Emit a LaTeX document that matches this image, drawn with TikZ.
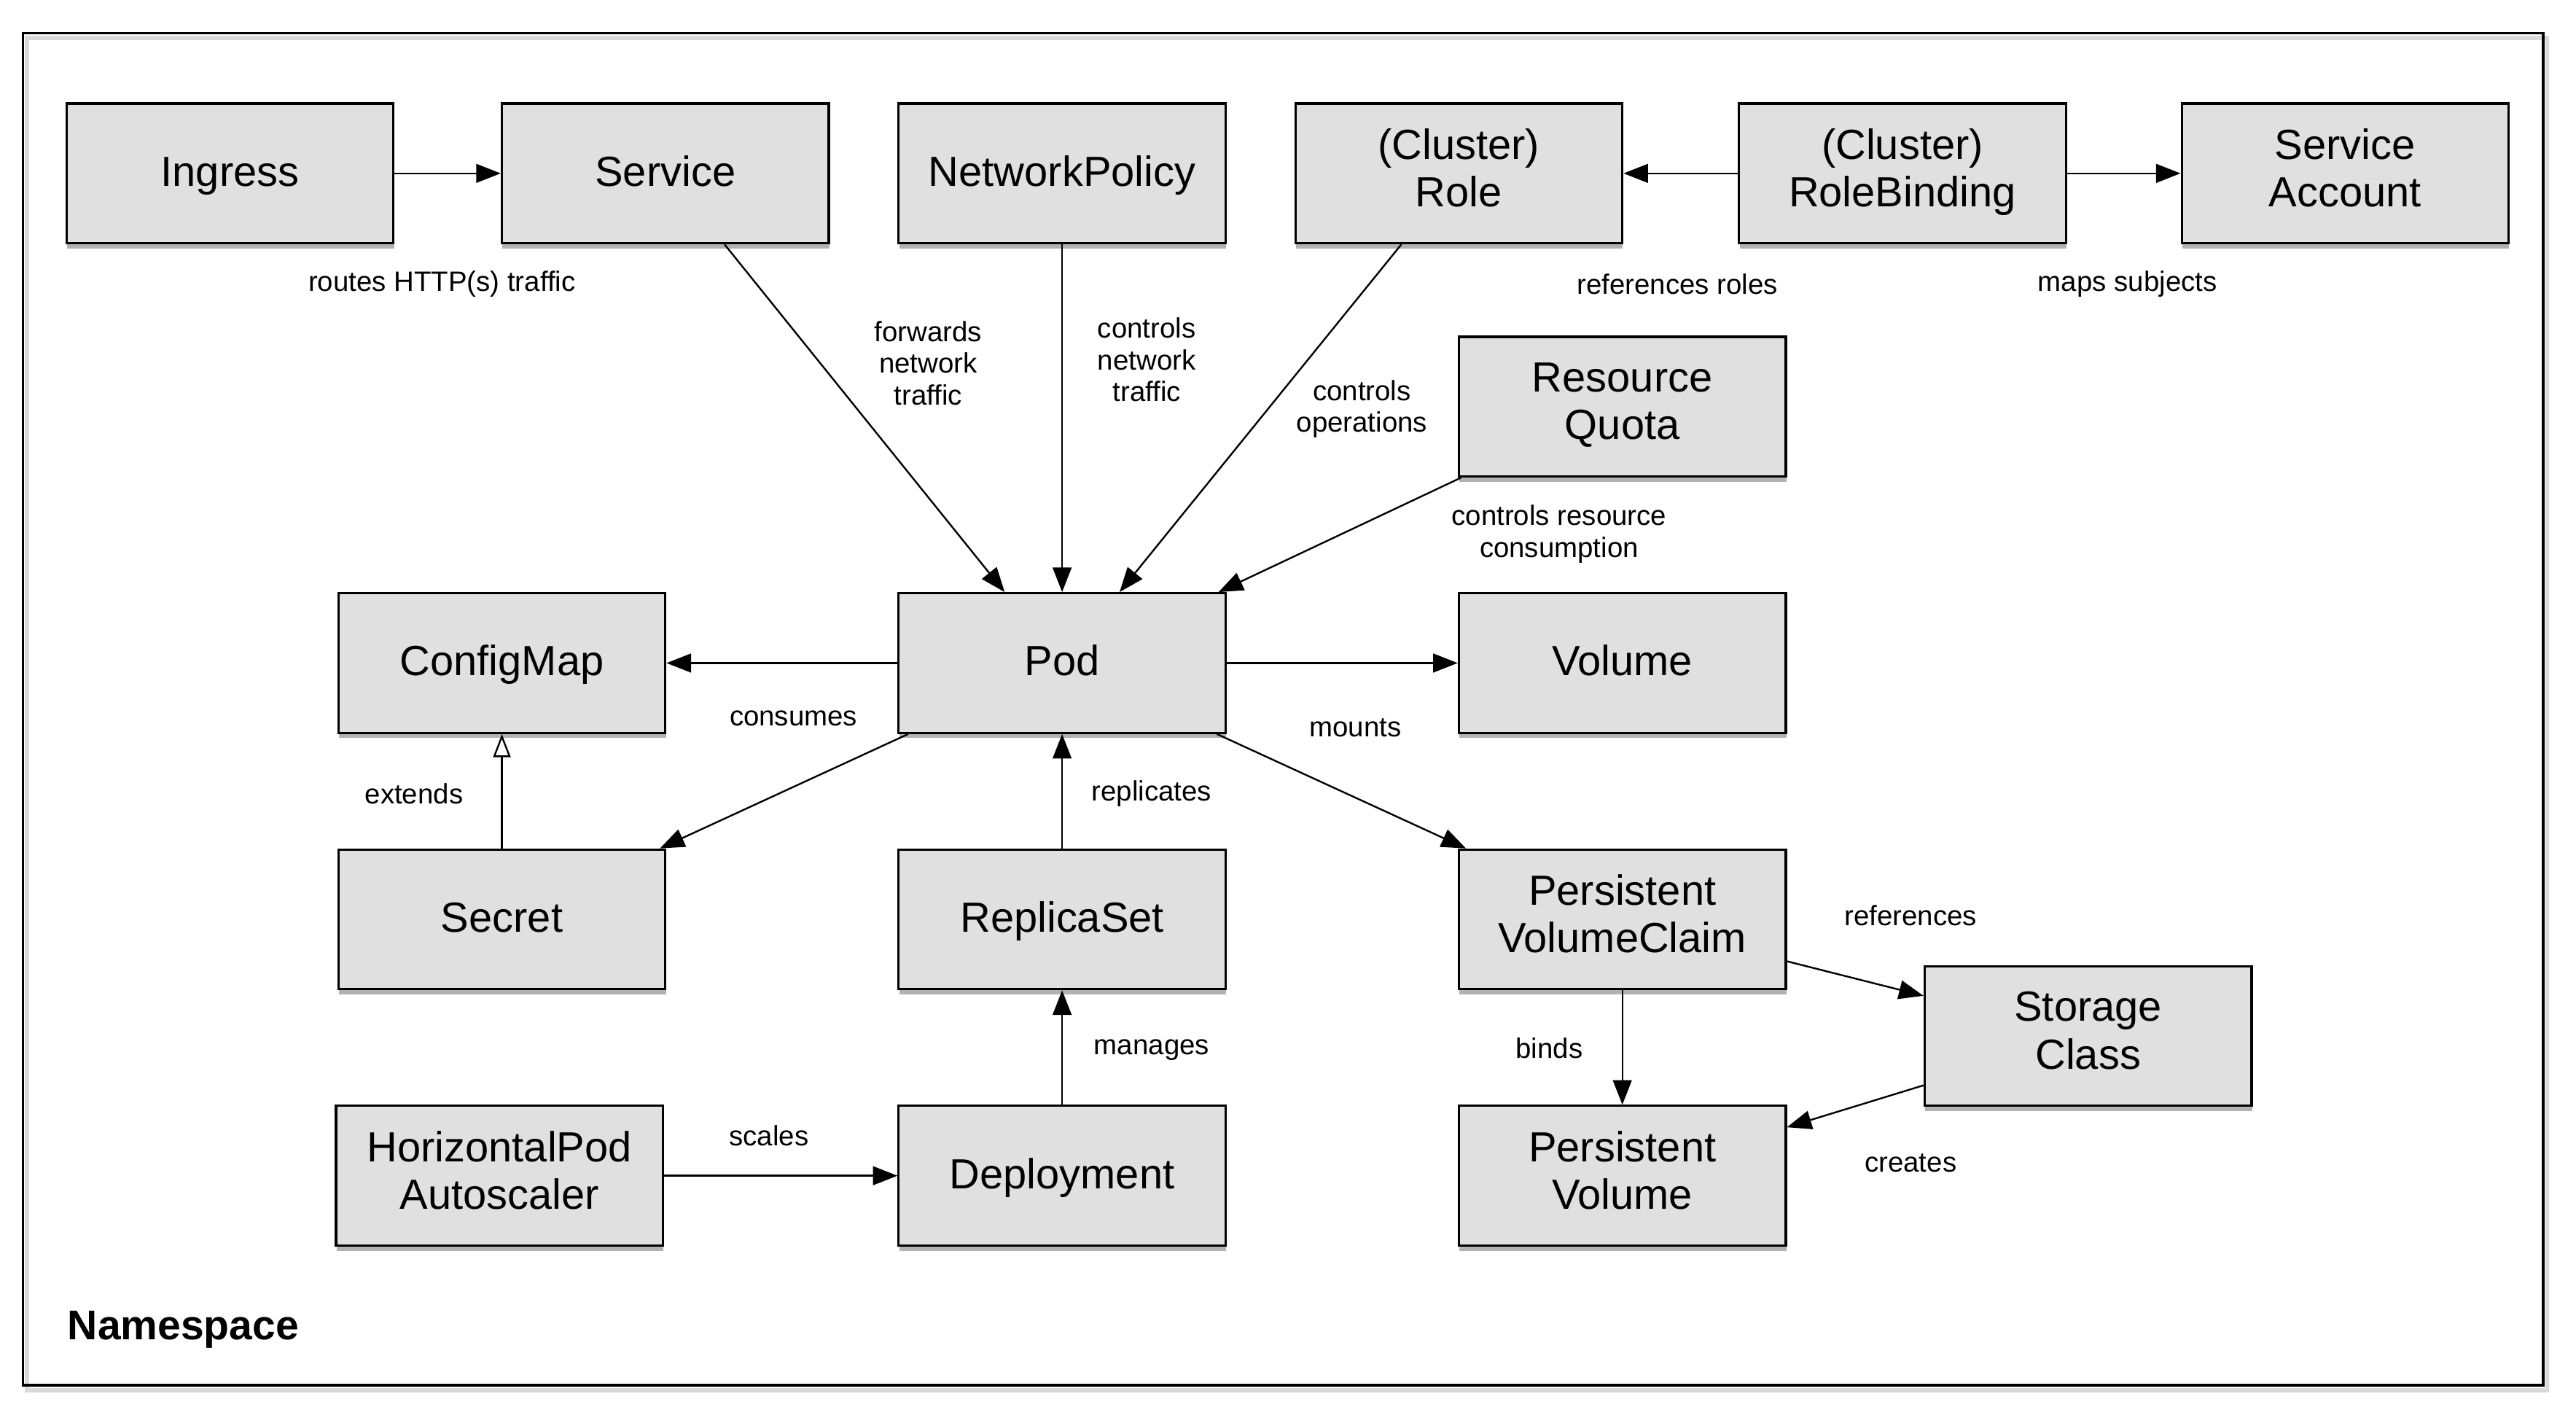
\documentclass[tikz,border=0pt]{standalone}
\usepackage{fontspec}
\setmainfont{Liberation Sans}
\usetikzlibrary{arrows.meta,shadows}

\definecolor{boxgray}{RGB}{224,224,224}
\newcommand{\boxstrut}{\rule[-4pt]{0pt}{16.8pt}}
\tikzset{arrow/.style={-{Triangle[length=8.5pt,width=6.5pt]}, line width=0.6pt, draw=black}}
\tikzset{extarrow/.style={-{Triangle[open,length=8pt,width=6pt]}, line width=0.6pt, draw=black}}
\tikzset{kbox/.style={draw=black, line width=0.8pt, fill=boxgray, minimum width=3.98cm, minimum height=1.7cm, align=center,
    font=\fontsize{14.6}{16.5}\selectfont, execute at begin node=\boxstrut, execute at end node=\boxstrut,
    drop shadow={shadow xshift=0.2pt, shadow yshift=-1.8pt, fill=black, opacity=0.3}}}
\tikzset{lbl/.style={align=center, font=\fontsize{9.7}{11}\selectfont}}

\begin{document}
\begin{tikzpicture}
            \useasboundingbox (0,0) rectangle (31.36,-17.16);
            % namespace frame
            \draw[gray!30, line width=1.4pt] (0.33,-0.46) rectangle (31.01,-16.92);
            \draw[line width=0.8pt] (0.28,-0.40) rectangle (30.96,-16.86);
            \node[anchor=west, font=\fontsize{14.4}{16}\selectfont\bfseries] (NS) at (0.70,-16.18) {Namespace};
            % boxes
            \node[kbox] (Ing) at (2.80,-2.11) {Ingress};
            \node[kbox] (Svc) at (8.10,-2.11) {Service};
            \node[kbox] (NP) at (12.93,-2.11) {NetworkPolicy};
            \node[kbox] (Role) at (17.76,-2.11) {(Cluster)\\Role};
            \node[kbox] (RB) at (23.16,-2.11) {(Cluster)\\RoleBinding};
            \node[kbox] (SA) at (28.55,-2.11) {Service\\Account};
            \node[kbox] (RQ) at (19.75,-4.95) {Resource\\Quota};
            \node[kbox] (CM) at (6.11,-8.07) {ConfigMap};
            \node[kbox] (Pod) at (12.93,-8.07) {Pod};
            \node[kbox] (Vol) at (19.75,-8.07) {Volume};
            \node[kbox] (Sec) at (6.11,-11.19) {Secret};
            \node[kbox] (RS) at (12.93,-11.19) {ReplicaSet};
            \node[kbox] (PVC) at (19.75,-11.19) {Persistent\\VolumeClaim};
            \node[kbox] (SC) at (25.42,-12.61) {Storage\\Class};
            \node[kbox] (HPA) at (6.08,-14.31) {HorizontalPod\\Autoscaler};
            \node[kbox] (Dep) at (12.93,-14.31) {Deployment};
            \node[kbox] (PV) at (19.75,-14.31) {Persistent\\Volume};
            % connectors
            \draw[arrow] (Ing.east) -- (Svc.west);
            \draw[arrow] ([xshift=0.72cm]Svc.south) -- ([xshift=-0.70cm]Pod.north);
            \draw[arrow] (NP.south) -- (Pod.north);
            \draw[arrow] ([xshift=-0.70cm]Role.south) -- ([xshift=0.70cm]Pod.north);
            \draw[arrow] (RB.west) -- (Role.east);
            \draw[arrow] (RB.east) -- (SA.west);
            \draw[arrow] ([xshift=0.04cm]RQ.south west) -- ([xshift=-0.10cm]Pod.north east);
            \draw[arrow] (Pod.west) -- (CM.east);
            \draw[arrow] (Pod.east) -- (Vol.west);
            \draw[arrow] ([xshift=0.13cm]Pod.south west) -- ([xshift=-0.08cm]Sec.north east);
            \draw[arrow] ([xshift=-0.12cm]Pod.south east) -- ([xshift=0.10cm]PVC.north west);
            \draw[extarrow] (Sec.north) -- (CM.south);
            \draw[arrow] (RS.north) -- (Pod.south);
            \draw[arrow] (Dep.north) -- (RS.south);
            \draw[arrow] (HPA.east) -- (Dep.west);
            \draw[arrow] (PVC.south) -- (PV.north);
            \draw[arrow] ([yshift=-0.51cm]PVC.east) -- ([yshift=0.49cm]SC.west);
            \draw[arrow] ([yshift=-0.60cm]SC.west) -- ([yshift=0.59cm]PV.east);
            % labels
            \node[lbl] (lRoutes) at (5.38,-3.46) {routes HTTP(s) traffic};
            \node[lbl] (lFwd) at (11.30,-4.42) {forwards\\network\\traffic};
            \node[lbl] (lNet) at (13.96,-4.38) {controls\\network\\traffic};
            \node[lbl] (lOps) at (16.58,-4.98) {controls\\operations};
            \node[lbl] (lRefR) at (20.42,-3.46) {references roles};
            \node[lbl] (lMaps) at (25.90,-3.46) {maps subjects};
            \node[lbl] (lRes) at (18.98,-6.50) {controls resource\\consumption};
            \node[lbl] (lCons) at (9.66,-8.74) {consumes};
            \node[lbl] (lMnt) at (16.50,-8.86) {mounts};
            \node[lbl] (lExt) at (5.04,-9.66) {extends};
            \node[lbl] (lRep) at (14.02,-9.66) {replicates};
            \node[lbl] (lRef) at (23.26,-11.14) {references};
            \node[lbl] (lBind) at (18.86,-12.76) {binds};
            \node[lbl] (lMan) at (14.02,-12.78) {manages};
            \node[lbl] (lScl) at (9.36,-13.82) {scales};
            \node[lbl] (lCre) at (23.26,-14.16) {creates};
        \end{tikzpicture}
\end{document}
